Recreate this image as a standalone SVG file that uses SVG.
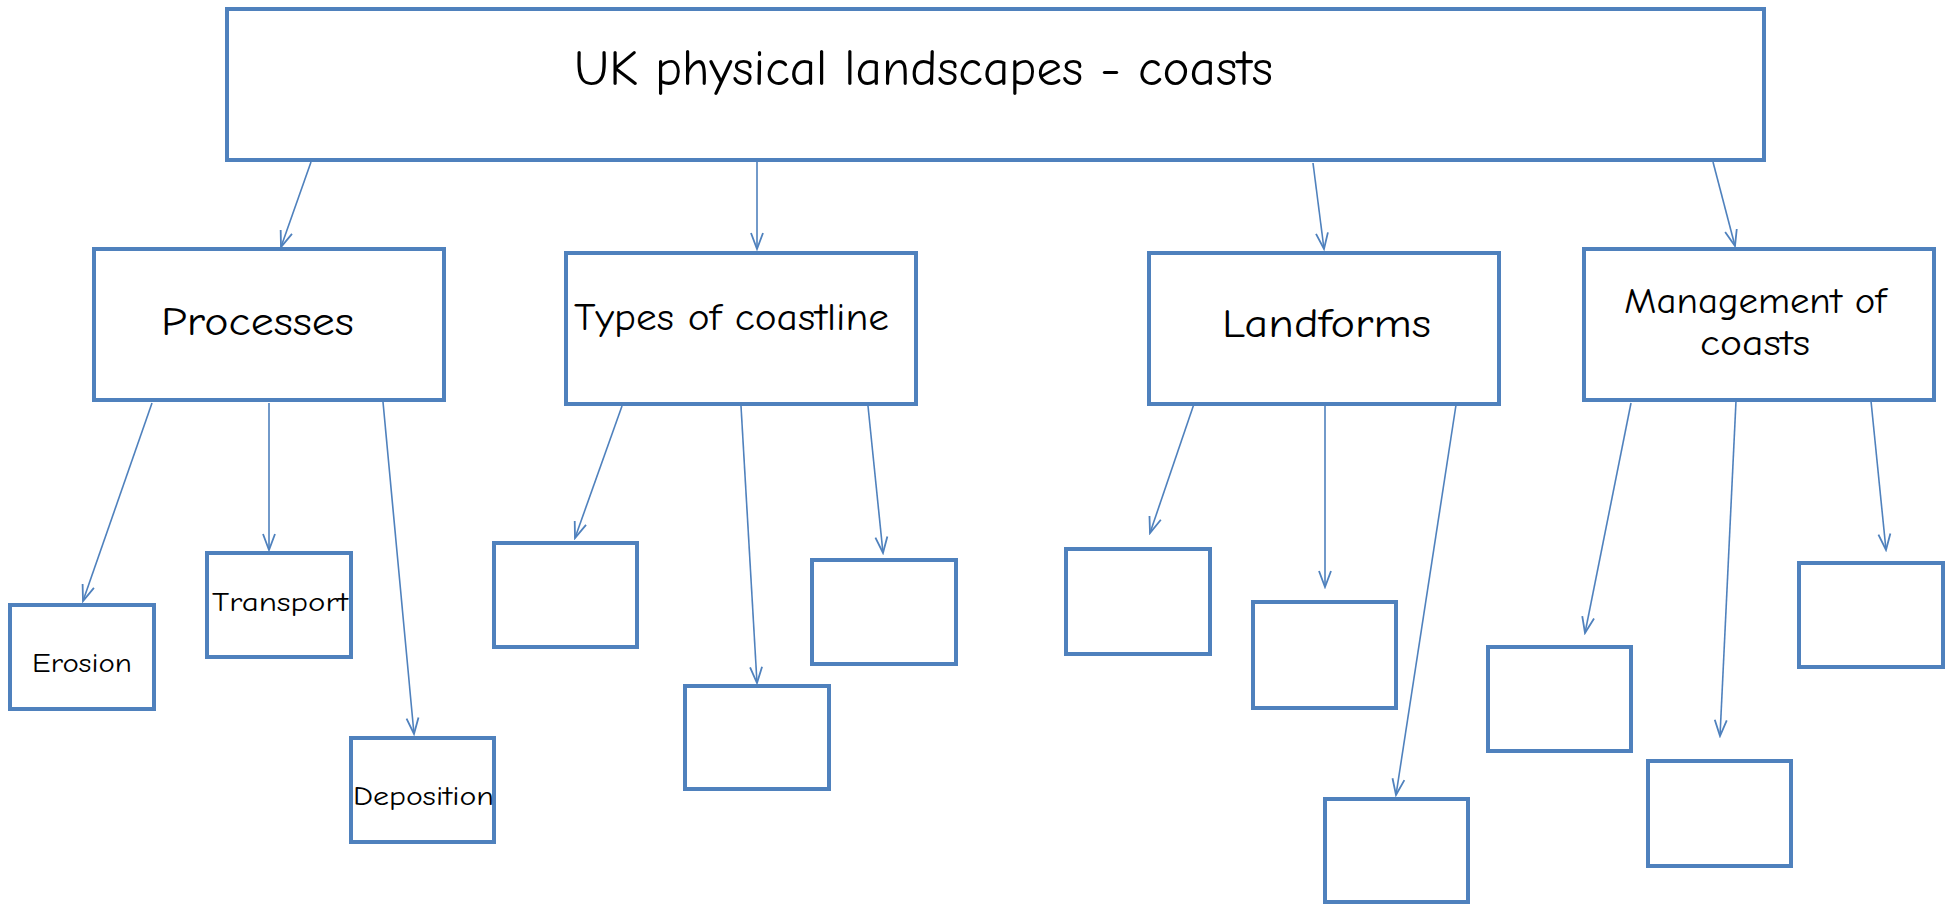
<svg xmlns="http://www.w3.org/2000/svg" width="1954" height="908" viewBox="0 0 1954 908">
<defs>
<style>
.box{fill:#fff;stroke:#4F81BD;stroke-width:4}
.t{font-family:"Comic Neue","Liberation Sans",sans-serif;fill:#000}
.c line{stroke:#4F81BD;stroke-width:1.6;fill:none;marker-end:url(#ah)}
</style>
<marker id="ah" markerUnits="userSpaceOnUse" markerWidth="20" markerHeight="16" viewBox="0 0 20 16" refX="18" refY="8" orient="auto">
<path d="M2,2 L18,8 L2,14" fill="none" stroke="#4F81BD" stroke-width="1.8"/>
</marker>
</defs>
<rect width="1954" height="908" fill="#fff"/>
<g class="c" id="connectors">
<line x1="311" y1="162" x2="281" y2="247"/>
<line x1="757" y1="162" x2="757" y2="249"/>
<line x1="1313" y1="163" x2="1324" y2="249"/>
<line x1="1713" y1="162" x2="1735" y2="246"/>
<line x1="152" y1="403" x2="83" y2="601"/>
<line x1="269" y1="403" x2="269" y2="550"/>
<line x1="383" y1="402" x2="414" y2="734"/>
<line x1="622" y1="406" x2="575" y2="538"/>
<line x1="741" y1="406" x2="757" y2="683"/>
<line x1="868" y1="406" x2="883" y2="553"/>
<line x1="1196" y1="398" x2="1150" y2="533"/>
<line x1="1325" y1="405" x2="1325" y2="587"/>
<line x1="1456" y1="405" x2="1396" y2="795"/>
<line x1="1631" y1="403" x2="1585" y2="633"/>
<line x1="1736" y1="401" x2="1720" y2="736"/>
<line x1="1871" y1="401" x2="1886" y2="550"/>
</g>
<g id="root"><rect class="box" x="227" y="9" width="1537" height="151"/>
<text class="t" x="574" y="85" font-size="50" textLength="699" lengthAdjust="spacingAndGlyphs">UK physical landscapes - coasts</text></g>
<g id="processes"><rect class="box" x="94" y="249" width="350" height="151"/>
<text class="t" x="161" y="335" font-size="40" textLength="193" lengthAdjust="spacingAndGlyphs">Processes</text></g>
<g id="types"><rect class="box" x="566" y="253" width="350" height="151"/>
<text class="t" x="574" y="330" font-size="38" textLength="315" lengthAdjust="spacingAndGlyphs">Types of coastline</text></g>
<g id="landforms"><rect class="box" x="1149" y="253" width="350" height="151"/>
<text class="t" x="1222" y="337" font-size="40" textLength="209" lengthAdjust="spacingAndGlyphs">Landforms</text></g>
<g id="management"><rect class="box" x="1584" y="249" width="350" height="151"/>
<text class="t" x="1624" y="313" font-size="36" textLength="262" lengthAdjust="spacingAndGlyphs">Management of</text>
<text class="t" x="1700" y="355" font-size="36" textLength="110" lengthAdjust="spacingAndGlyphs">coasts</text></g>
<g id="erosion"><rect class="box" x="10" y="605" width="144" height="104"/>
<text class="t" x="32" y="672" font-size="27" textLength="100" lengthAdjust="spacingAndGlyphs">Erosion</text></g>
<g id="transport"><rect class="box" x="207" y="553" width="144" height="104"/>
<text class="t" x="212" y="611" font-size="27" textLength="136" lengthAdjust="spacingAndGlyphs">Transport</text></g>
<g id="deposition"><rect class="box" x="351" y="738" width="143" height="104"/>
<text class="t" x="353" y="805" font-size="27" textLength="141" lengthAdjust="spacingAndGlyphs">Deposition</text></g>
<g id="types1"><rect class="box" x="494" y="543" width="143" height="104"/></g>
<g id="types2"><rect class="box" x="685" y="686" width="144" height="103"/></g>
<g id="types3"><rect class="box" x="812" y="560" width="144" height="104"/></g>
<g id="land1"><rect class="box" x="1066" y="549" width="144" height="105"/></g>
<g id="land2"><rect class="box" x="1253" y="602" width="143" height="106"/></g>
<g id="land3"><rect class="box" x="1325" y="799" width="143" height="103"/></g>
<g id="man1"><rect class="box" x="1488" y="647" width="143" height="104"/></g>
<g id="man2"><rect class="box" x="1648" y="761" width="143" height="105"/></g>
<g id="man3"><rect class="box" x="1799" y="563" width="144" height="104"/></g>
</svg>
